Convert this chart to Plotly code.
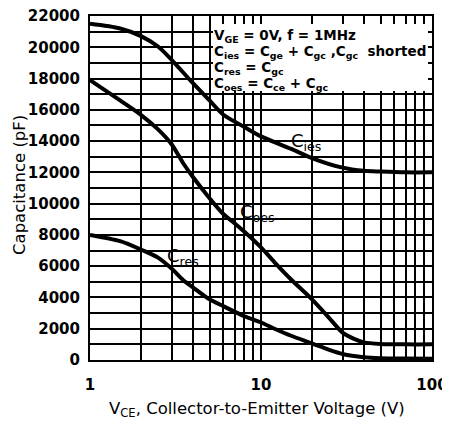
import math
import plotly.graph_objects as go

# ---- data ----
v_ies = [1, 1.5, 2, 2.5, 3, 4, 5, 6, 8, 10, 15, 20, 30, 40, 50, 70, 100]
c_ies = [21500, 21200, 20700, 20050, 19200, 17700, 16600, 15700, 14900, 14300,
         13500, 12900, 12300, 12100, 12050, 12000, 12000]

v_oes = [1, 1.5, 2, 2.5, 3, 3.5, 4, 5, 6, 7, 8, 10, 12, 15, 20, 25, 30, 35, 40, 50, 70, 100]
c_oes = [17900, 16600, 15650, 14750, 13800, 12600, 11700, 10350, 9350, 8750, 8200, 7200,
         6250, 5150, 3850, 2700, 1750, 1350, 1130, 1030, 1000, 1000]

v_res = [1, 1.5, 2, 2.5, 3, 3.5, 4, 5, 6, 8, 10, 12, 15, 20, 25, 30, 40, 50, 70, 100]
c_res = [8000, 7600, 7050, 6550, 5850, 5120, 4650, 3880, 3450, 2800, 2400, 2000,
         1550, 1050, 650, 380, 170, 110, 90, 80]

x_tickvals = [1, 2, 3, 4, 5, 6, 7, 8, 9, 10, 20, 30, 40, 50, 60, 70, 80, 90, 100]
x_ticktext = ["1", "", "", "", "", "", "", "", "", "10", "", "", "", "", "", "", "", "", "100"]
y_tickvals = list(range(0, 22001, 1000))
y_ticktext = [str(v) if v % 2000 == 0 else "" for v in y_tickvals]

curve_labels = ["C<sub>ies</sub>", "C<sub>oes</sub>", "C<sub>res</sub>"]
label_x = [18.3, 9.5, 3.5]
label_y = [13950, 9400, 6600]

legend_lines = [
    "V<sub>GE</sub> = 0V, f = 1MHz",
    "C<sub>ies</sub> = C<sub>ge</sub> + C<sub>gc</sub> ,C<sub>gc</sub>  shorted",
    "C<sub>res</sub> = C<sub>gc</sub>",
    "C<sub>oes</sub> = C<sub>ce</sub> + C<sub>gc</sub>",
]

# ---- figure ----
OFF = 8                      # page body margin
W, H = 450 - OFF, 425 - OFF
L, R, T, B = 90 - OFF, 18, 16 - OFF, 65
PW, PH = W - L - R, H - T - B

def px_x(px):            # page pixel -> paper x
    return (px - OFF - L) / PW

def px_y(py):            # page pixel -> paper y
    return (OFF + H - B - py) / PH

fig = go.Figure()
for xs, ys in [(v_ies, c_ies), (v_oes, c_oes), (v_res, c_res)]:
    fig.add_trace(go.Scatter(x=xs, y=ys, mode="lines",
                             line=dict(color="black", width=4, shape="spline", smoothing=0.8),
                             showlegend=False, hoverinfo="skip"))

for t, x, y in zip(curve_labels, label_x, label_y):
    fig.add_annotation(x=math.log10(x), y=y, xref="x", yref="y", text=t, showarrow=False,
                       xanchor="center", yanchor="middle",
                       font=dict(family="DejaVu Sans", size=18, color="black"))

# white box behind legend text
fig.add_shape(type="rect", xref="paper", yref="paper",
              x0=px_x(213), x1=px_x(428), y0=px_y(91), y1=px_y(24),
              fillcolor="white", line=dict(width=0), layer="above")

for i, t in enumerate(legend_lines):
    fig.add_annotation(x=px_x(212), y=px_y(36 + 16 * i), xref="paper", yref="paper",
                       text=t, showarrow=False, xanchor="left", yanchor="middle",
                       font=dict(family="DejaVu Sans", size=13.5, color="black", weight="bold"))

# axis titles
fig.add_annotation(x=px_x(257), y=px_y(409), xref="paper", yref="paper",
                   text="V<sub>CE</sub>, Collector-to-Emitter Voltage (V)", showarrow=False,
                   xanchor="center", yanchor="middle",
                   font=dict(family="DejaVu Sans", size=16.5, color="black"))
fig.add_annotation(x=px_x(19), y=px_y(185), xref="paper", yref="paper",
                   text="Capacitance (pF)", showarrow=False, textangle=-90,
                   xanchor="center", yanchor="middle",
                   font=dict(family="DejaVu Sans", size=16.5, color="black"))

fig.update_xaxes(type="log", range=[0, 2], tickvals=x_tickvals, ticktext=x_ticktext,
                 showgrid=True, gridcolor="black", gridwidth=1.8, automargin=False,
                 showline=True, linecolor="black", linewidth=2, mirror=True,
                 ticks="", ticklabelstandoff=10, zeroline=False, ticklabeloverflow="allow",
                 tickfont=dict(family="DejaVu Sans", size=15, color="black", weight="bold"))
fig.update_yaxes(range=[0, 22000], tickvals=y_tickvals, ticktext=y_ticktext,
                 showgrid=True, gridcolor="black", gridwidth=1.8, automargin=False,
                 showline=True, linecolor="black", linewidth=2, mirror=True,
                 ticks="", ticklabelstandoff=5, zeroline=False, ticklabeloverflow="allow",
                 tickfont=dict(family="DejaVu Sans", size=15, color="black", weight="bold"))

fig.update_layout(width=W, height=H, margin=dict(l=L, r=R, t=T, b=B, pad=0, autoexpand=False),
                  plot_bgcolor="white", paper_bgcolor="white", showlegend=False)

fig.write_html("out.html")
